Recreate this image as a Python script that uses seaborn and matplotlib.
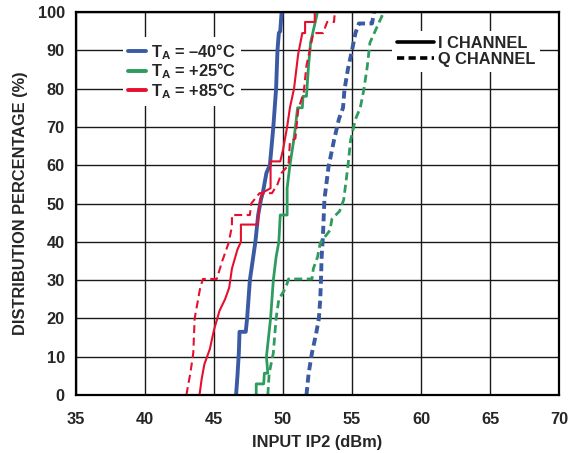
import pandas as pd
import matplotlib
matplotlib.use("Agg")
from matplotlib import pyplot as plt
from matplotlib.lines import Line2D
import seaborn as sns

# curves: x = input IP2 (dBm), y = distribution (%)
blue_i_x = [46.6, 46.7, 46.8, 46.85, 47.3, 47.4, 47.6, 48.0, 48.2, 48.4, 48.55, 48.8, 49.05, 49.3, 49.4, 49.5, 49.6, 49.7, 49.8, 49.9]
blue_i_y = [0, 5, 11, 16.5, 16.5, 20, 30, 40, 47, 51, 53, 58, 60, 70, 75, 80, 90, 94.5, 95, 100]

blue_q_x = [51.7, 51.86, 52.1, 52.4, 52.6, 52.7, 52.75, 52.8, 52.9, 53.0, 53.3, 53.7, 54.05, 54.35, 54.45, 54.7, 55.0, 55.25, 55.5, 56.45, 56.6]
blue_q_y = [0, 5.7, 11, 16, 20, 25, 30, 36, 42, 51, 59.6, 66.6, 72, 75, 79.6, 85, 90, 94.5, 97, 97, 100]

green_i_x = [48.06, 48.06, 48.6, 48.65, 48.9, 48.8, 49.1, 49.3, 49.5, 49.7, 49.8, 50.3, 50.3, 50.5, 50.8, 50.9, 51.06, 51.4, 51.45, 51.7, 51.85, 52.0, 52.5]
green_i_y = [0, 2.9, 2.9, 5.7, 5.7, 10, 20, 30, 36, 40, 47, 47, 54, 60, 67, 70, 75, 75, 78, 78, 86, 92, 100]

green_q_x = [48.9, 49.0, 49.3, 49.5, 49.7, 50.2, 50.4, 52.1, 52.2, 52.5, 52.7, 53.4, 53.55, 54.1, 54.4, 54.7, 54.9, 55.25, 55.6, 55.85, 56.1, 56.3, 56.8, 57.3]
green_q_y = [0, 5.7, 11, 20, 25, 28, 30.3, 30.3, 33, 36, 39.7, 43, 46, 48, 51, 59.6, 66.6, 72, 75, 79.6, 85.6, 92, 96, 100]

red_i_x = [43.95, 44.1, 44.3, 44.7, 45.0, 45.4, 45.8, 46.1, 46.3, 46.7, 46.95, 46.95, 48.15, 48.35, 48.6, 49.1, 49.1, 49.8, 50.0, 50.3, 50.5, 50.8, 51.1, 51.4, 51.6, 51.6, 52.3, 52.3]
red_i_y = [0, 4, 8, 12, 17, 22, 25, 28, 33, 38, 40, 44.5, 44.5, 51, 53, 54, 61, 61, 64, 70, 75, 80, 89, 94.5, 94.5, 97.4, 97.4, 100]

red_q_x = [43.0, 43.3, 43.5, 43.6, 44.0, 44.2, 45.2, 45.6, 46.05, 46.3, 46.3, 47.6, 47.7, 48.3, 49.2, 49.6, 49.9, 50.4, 50.5, 50.9, 51.1, 51.5, 51.7, 52.2, 52.9, 53.2, 53.7, 53.75]
red_q_y = [0, 6, 11, 20, 28, 30.3, 30.3, 35, 39.6, 44, 47, 47, 50, 52.7, 52.7, 55, 58, 60, 66, 67, 74.5, 79, 86, 94.5, 94.5, 97.4, 97.4, 100]

temps = ["T$_\\mathbf{A}$ = \u201340\u00b0C", "T$_\\mathbf{A}$ = +25\u00b0C", "T$_\\mathbf{A}$ = +85\u00b0C"]
colors = ["#3a5ba3", "#2e9c5e", "#e4102e"]
widths = [2.8, 2.0, 1.5]

sns.set_theme(style="white")
plt.rcParams["font.family"] = ["Liberation Sans", "DejaVu Sans"]
plt.rcParams["font.weight"] = "bold"
plt.rcParams["mathtext.fontset"] = "custom"
plt.rcParams["mathtext.bf"] = "Liberation Sans:bold"
plt.rcParams["mathtext.rm"] = "Liberation Sans:bold"

fs = 11.8

fig, ax = plt.subplots(figsize=(5.73, 4.53), dpi=100)
fig.subplots_adjust(left=0.1326, right=0.9756, top=0.9735, bottom=0.128)

curves = [
    (blue_i_x, blue_i_y, blue_q_x, blue_q_y),
    (green_i_x, green_i_y, green_q_x, green_q_y),
    (red_i_x, red_i_y, red_q_x, red_q_y),
]

for (ix, iy, qx, qy), c, w in zip(curves, colors, widths):
    df_i = pd.DataFrame({"x": ix, "y": iy})
    df_q = pd.DataFrame({"x": qx, "y": qy})
    sns.lineplot(data=df_i, x="x", y="y", sort=False, estimator=None, color=c, lw=w, ax=ax)
    sns.lineplot(data=df_q, x="x", y="y", sort=False, estimator=None, color=c, lw=w,
                 linestyle=(0, (8.0 / (w * 1.39), 4.5 / (w * 1.39))), ax=ax)

ax.set_xlim(35, 70)
ax.set_ylim(0, 100)
ax.set_xticks(range(35, 71, 5))
ax.set_yticks(range(0, 101, 10))
ax.grid(True, color="#1a1a1a", lw=1.0)
ax.tick_params(axis="x", length=0, labelsize=fs, pad=12)
ax.tick_params(axis="y", length=0, labelsize=fs, pad=8)
for lab in ax.get_xticklabels() + ax.get_yticklabels():
    lab.set_fontweight("bold")
for s in ax.spines.values():
    s.set_color("black")
    s.set_linewidth(1.6)
ax.set_xlabel("INPUT IP2 (dBm)", fontsize=fs, fontweight="bold", labelpad=6)
ax.set_ylabel("DISTRIBUTION PERCENTAGE (%)", fontsize=fs, fontweight="bold", labelpad=7)

h1 = [Line2D([], [], color=c, lw=2.8) for c in colors]
leg1 = ax.legend(h1, temps, loc="upper left", bbox_to_anchor=(0.097, 0.935),
                 frameon=True, framealpha=1, facecolor="white", edgecolor="none",
                 fancybox=False, fontsize=fs, handlelength=1.1, handletextpad=0.3,
                 labelspacing=0.0, borderpad=0.3, borderaxespad=0)
for t in leg1.get_texts():
    t.set_fontweight("bold")
ax.add_artist(leg1)

h2 = [Line2D([], [], color="black", lw=2.6),
      Line2D([], [], color="black", lw=2.6, linestyle=(0, (2.0, 1.2)))]
leg2 = ax.legend(h2, ["I CHANNEL", "Q CHANNEL"], loc="upper left", bbox_to_anchor=(0.654, 0.95),
                 frameon=True, framealpha=1, facecolor="white", edgecolor="none",
                 fancybox=False, fontsize=fs, handlelength=2.3, handletextpad=0.2,
                 labelspacing=0.05, borderpad=0.3, borderaxespad=0)
for t in leg2.get_texts():
    t.set_fontweight("bold")

fig.savefig("out.png", dpi=100)
